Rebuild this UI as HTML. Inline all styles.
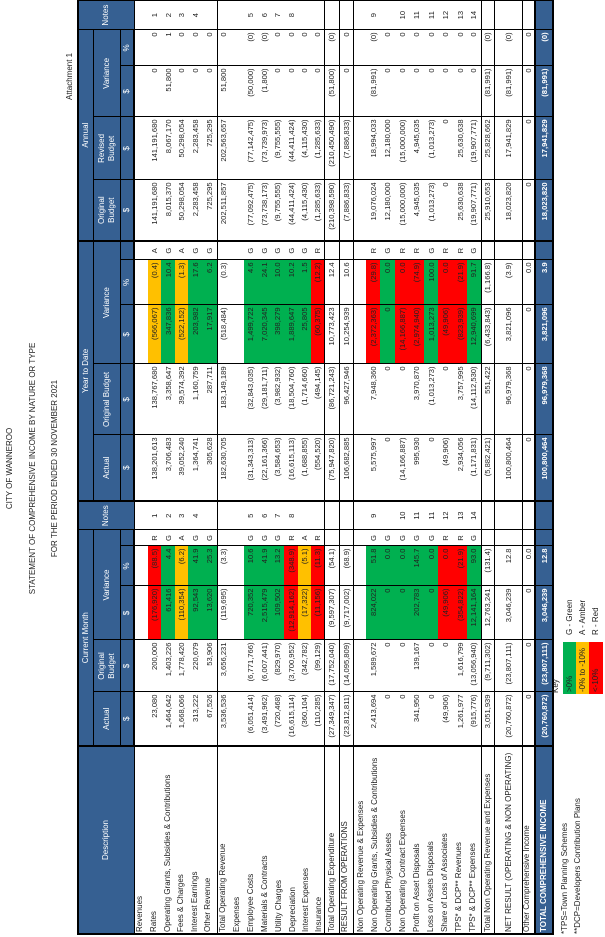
<!DOCTYPE html>
<html><head><meta charset="utf-8">
<style>
html,body{margin:0;padding:0;background:#fff;}
body{width:605px;height:937px;overflow:hidden;position:relative;font-family:"Liberation Sans",Arial,sans-serif;}
#L{position:absolute;left:0;top:0;width:937px;height:605px;transform-origin:0 0;transform:translateY(937px) rotate(-90deg);}
.t{position:absolute;font-size:8px;color:#222;white-space:nowrap;line-height:10px;}
table{position:absolute;left:2px;top:77px;width:932px;border-collapse:collapse;table-layout:fixed;}
td{padding:0 2px;font-size:7.6px;color:#222;white-space:nowrap;overflow:hidden;border-left:1px solid #000;border-right:1px solid #000;text-align:right;line-height:9px;}
th{background:#366092;color:#fff;border:1px solid #000;font-weight:normal;font-size:8px;text-align:center;padding:0;line-height:10px;overflow:hidden;}
.k{border-left:2px solid #000 !important;}
.c{text-align:center;}
.g{background:#00B050;}
.a{background:#FFC000;}
.r{background:#FF0000;}
tr.bb td{border-bottom:1px solid #000;}
tr.tot td{background:#366092;color:#fff;font-weight:bold;border-top:2px solid #000;border-bottom:2px solid #000;}
tr.hd3 th{border-bottom:2px solid #000;}
.bold{font-weight:bold;}
</style></head><body>
<div id="L">
<div class="t" style="left:0;width:937px;text-align:center;top:5px;">CITY OF WANNEROO</div>
<div class="t" style="left:0;width:937px;text-align:center;top:28px;">STATEMENT OF COMPREHENSIVE INCOME BY NATURE OR TYPE</div>
<div class="t" style="left:0;width:937px;text-align:center;top:50px;">FOR THE PERIOD ENDED 30 NOVEMBER 2021</div>
<div class="t" style="left:837px;top:65px;">Attachment 1</div>

<table>
<colgroup>
<col style="width:188px"><col style="width:54px"><col style="width:52px"><col style="width:54px"><col style="width:40px"><col style="width:16px"><col style="width:29px">
<col style="width:66px"><col style="width:71px"><col style="width:59px"><col style="width:45px"><col style="width:19px">
<col style="width:61px"><col style="width:63px"><col style="width:51px"><col style="width:36px"><col style="width:30px">
</colgroup>
<tr style="height:15px"><th rowspan="3" class="k" style="border-top:2px solid #000">Description</th><th colspan="5" class="k" style="border-top:2px solid #000">Current Month</th><th rowspan="3" style="border-top:2px solid #000">Notes</th><th colspan="5" class="k" style="border-top:2px solid #000">Year to Date</th><th colspan="4" class="k" style="border-top:2px solid #000">Annual</th><th rowspan="3" style="border-top:2px solid #000;border-right:2px solid #000">Notes</th></tr>
<tr style="height:27px"><th class="k">Actual</th><th>Original<br>Budget</th><th colspan="3">Variance</th><th class="k">Actual</th><th>Original Budget</th><th colspan="3">Variance</th><th class="k">Original<br>Budget</th><th>Revised<br>Budget</th><th colspan="2">Variance</th></tr>
<tr class="hd3" style="height:14px"><th class="k">$</th><th>$</th><th>$</th><th>%</th><th></th><th class="k">$</th><th>$</th><th>$</th><th>%</th><th></th><th class="k">$</th><th>$</th><th>$</th><th>%</th></tr>

<tr style="height:14px"><td class="k"></td><td class="k"></td><td></td><td></td><td></td><td></td><td></td><td class="k"></td><td></td><td></td><td></td><td></td><td class="k"></td><td></td><td></td><td></td><td style="border-right:2px solid #000"></td></tr>
<tr style="height:13px"><td class="k"></td><td class="k">23,080</td><td>200,000</td><td class="r">(176,920)</td><td class="r">(88.5)</td><td class="c">R</td><td class="c">1</td><td class="k">138,201,613</td><td>138,767,680</td><td class="a">(566,067)</td><td class="a">(0.4)</td><td class="c">A</td><td class="k">141,191,680</td><td>141,191,680</td><td>0</td><td>0</td><td class="c" style="border-right:2px solid #000">1</td></tr>
<tr style="height:14px"><td class="k"></td><td class="k">1,464,642</td><td>1,403,226</td><td class="g">61,416</td><td class="g">4.4</td><td class="c">G</td><td class="c">2</td><td class="k">3,706,483</td><td>3,358,647</td><td class="g">347,836</td><td class="g">10.4</td><td class="c">G</td><td class="k">8,015,370</td><td>8,067,170</td><td>51,800</td><td>1</td><td class="c" style="border-right:2px solid #000">2</td></tr>
<tr style="height:13px"><td class="k"></td><td class="k">1,668,066</td><td>1,778,420</td><td class="a">(110,354)</td><td class="a">(6.2)</td><td class="c">A</td><td class="c">3</td><td class="k">39,052,240</td><td>39,574,392</td><td class="a">(522,152)</td><td class="a">(1.3)</td><td class="c">A</td><td class="k">50,298,054</td><td>50,298,054</td><td>0</td><td>0</td><td class="c" style="border-right:2px solid #000">3</td></tr>
<tr style="height:14px"><td class="k"></td><td class="k">313,222</td><td>220,679</td><td class="g">92,543</td><td class="g">41.9</td><td class="c">G</td><td class="c">4</td><td class="k">1,364,741</td><td>1,160,759</td><td class="g">203,982</td><td class="g">17.6</td><td class="c">G</td><td class="k">2,283,458</td><td>2,283,458</td><td>0</td><td>0</td><td class="c" style="border-right:2px solid #000">4</td></tr>
<tr class="bb" style="height:15px"><td class="k"></td><td class="k">67,526</td><td>53,906</td><td class="g">13,620</td><td class="g">25.3</td><td class="c">G</td><td class="c"></td><td class="k">305,628</td><td>287,711</td><td class="g">17,917</td><td class="g">6.2</td><td class="c">G</td><td class="k">725,295</td><td>725,295</td><td>0</td><td>0</td><td style="border-right:2px solid #000"></td></tr>
<tr style="height:13px"><td class="k"></td><td class="k">3,536,536</td><td>3,656,231</td><td>(119,695)</td><td>(3.3)</td><td></td><td></td><td class="k">182,630,705</td><td>183,149,189</td><td>(518,484)</td><td>(0.3)</td><td></td><td class="k">202,511,857</td><td>202,563,657</td><td>51,800</td><td>0</td><td style="border-right:2px solid #000"></td></tr>
<tr style="height:14px"><td class="k"></td><td class="k"></td><td></td><td></td><td></td><td></td><td></td><td class="k"></td><td></td><td></td><td></td><td></td><td class="k"></td><td></td><td></td><td></td><td style="border-right:2px solid #000"></td></tr>
<tr style="height:13px"><td class="k"></td><td class="k">(6,051,414)</td><td>(6,771,766)</td><td class="g">720,352</td><td class="g">10.6</td><td class="c">G</td><td class="c">5</td><td class="k">(31,343,313)</td><td>(32,843,035)</td><td class="g">1,499,722</td><td class="g">4.6</td><td class="c">G</td><td class="k">(77,092,475)</td><td>(77,142,475)</td><td>(50,000)</td><td>(0)</td><td class="c" style="border-right:2px solid #000">5</td></tr>
<tr style="height:14px"><td class="k"></td><td class="k">(3,491,962)</td><td>(6,007,441)</td><td class="g">2,515,479</td><td class="g">41.9</td><td class="c">G</td><td class="c">6</td><td class="k">(22,161,366)</td><td>(29,181,711)</td><td class="g">7,020,345</td><td class="g">24.1</td><td class="c">G</td><td class="k">(73,738,173)</td><td>(73,739,973)</td><td>(1,800)</td><td>(0)</td><td class="c" style="border-right:2px solid #000">6</td></tr>
<tr style="height:13px"><td class="k"></td><td class="k">(720,468)</td><td>(829,970)</td><td class="g">109,502</td><td class="g">13.2</td><td class="c">G</td><td class="c">7</td><td class="k">(3,584,653)</td><td>(3,982,932)</td><td class="g">398,279</td><td class="g">10.0</td><td class="c">G</td><td class="k">(9,755,555)</td><td>(9,755,555)</td><td>0</td><td>0</td><td class="c" style="border-right:2px solid #000">7</td></tr>
<tr style="height:14px"><td class="k"></td><td class="k">(16,615,114)</td><td>(3,700,952)</td><td class="r">(12,914,162)</td><td class="r">(348.9)</td><td class="c">R</td><td class="c">8</td><td class="k">(16,615,113)</td><td>(18,504,760)</td><td class="g">1,889,647</td><td class="g">10.2</td><td class="c">G</td><td class="k">(44,411,424)</td><td>(44,411,424)</td><td>0</td><td>0</td><td class="c" style="border-right:2px solid #000">8</td></tr>
<tr style="height:13px"><td class="k"></td><td class="k">(360,104)</td><td>(342,782)</td><td class="a">(17,322)</td><td class="a">(5.1)</td><td class="c">A</td><td></td><td class="k">(1,688,855)</td><td>(1,714,660)</td><td class="g">25,805</td><td class="g">1.5</td><td class="c">G</td><td class="k">(4,115,430)</td><td>(4,115,430)</td><td>0</td><td>0</td><td style="border-right:2px solid #000"></td></tr>
<tr class="bb" style="height:13px"><td class="k"></td><td class="k">(110,285)</td><td>(99,129)</td><td class="r">(11,156)</td><td class="r">(11.3)</td><td class="c">R</td><td></td><td class="k">(554,520)</td><td>(494,145)</td><td class="r">(60,375)</td><td class="r">(12.2)</td><td class="c">R</td><td class="k">(1,285,633)</td><td>(1,285,633)</td><td>0</td><td>0</td><td style="border-right:2px solid #000"></td></tr>
<tr class="bb" style="height:15px"><td class="k"></td><td class="k">(27,349,347)</td><td>(17,752,040)</td><td>(9,597,307)</td><td>(54.1)</td><td></td><td></td><td class="k">(75,947,820)</td><td>(86,721,243)</td><td>10,773,423</td><td>12.4</td><td></td><td class="k">(210,398,590)</td><td>(210,450,490)</td><td>(51,800)</td><td>(0)</td><td style="border-right:2px solid #000"></td></tr>
<tr class="bb" style="height:14px"><td class="k"></td><td class="k">(23,812,811)</td><td>(14,095,809)</td><td>(9,717,002)</td><td>(68.9)</td><td></td><td></td><td class="k">106,682,885</td><td>96,427,946</td><td>10,254,939</td><td>10.6</td><td></td><td class="k">(7,886,833)</td><td>(7,886,833)</td><td>0</td><td>0</td><td style="border-right:2px solid #000"></td></tr>
<tr style="height:13px"><td class="k"></td><td class="k"></td><td></td><td></td><td></td><td></td><td></td><td class="k"></td><td></td><td></td><td></td><td></td><td class="k"></td><td></td><td></td><td></td><td style="border-right:2px solid #000"></td></tr>
<tr style="height:14px"><td class="k"></td><td class="k">2,413,694</td><td>1,589,672</td><td class="g">824,022</td><td class="g">51.8</td><td class="c">G</td><td class="c">9</td><td class="k">5,575,997</td><td>7,948,360</td><td class="r">(2,372,363)</td><td class="r">(29.8)</td><td class="c">R</td><td class="k">19,076,024</td><td>18,994,033</td><td>(81,991)</td><td>(0)</td><td class="c" style="border-right:2px solid #000">9</td></tr>
<tr style="height:15px"><td class="k"></td><td class="k">0</td><td>0</td><td class="g">0</td><td class="g">0.0</td><td class="c">G</td><td></td><td class="k">0</td><td>0</td><td class="g">0</td><td class="g">0.0</td><td class="c">G</td><td class="k">12,180,000</td><td>12,180,000</td><td>0</td><td>0</td><td style="border-right:2px solid #000"></td></tr>
<tr style="height:14px"><td class="k"></td><td class="k">0</td><td>0</td><td class="g">0</td><td class="g">0.0</td><td class="c">G</td><td class="c">10</td><td class="k">(14,166,887)</td><td>0</td><td class="r">(14,166,887)</td><td class="r">0.0</td><td class="c">R</td><td class="k">(15,000,000)</td><td>(15,000,000)</td><td>0</td><td>0</td><td class="c" style="border-right:2px solid #000">10</td></tr>
<tr style="height:15px"><td class="k"></td><td class="k">341,950</td><td>139,167</td><td class="g">202,783</td><td class="g">145.7</td><td class="c">G</td><td class="c">11</td><td class="k">995,930</td><td>3,970,870</td><td class="r">(2,974,940)</td><td class="r">(74.9)</td><td class="c">R</td><td class="k">4,945,035</td><td>4,945,035</td><td>0</td><td>0</td><td class="c" style="border-right:2px solid #000">11</td></tr>
<tr style="height:14px"><td class="k"></td><td class="k">0</td><td>0</td><td class="g">0</td><td class="g">0.0</td><td class="c">G</td><td class="c">11</td><td class="k">0</td><td>(1,013,273)</td><td class="g">1,013,273</td><td class="g">100.0</td><td class="c">G</td><td class="k">(1,013,273)</td><td>(1,013,273)</td><td>0</td><td>0</td><td class="c" style="border-right:2px solid #000">11</td></tr>
<tr style="height:15px"><td class="k"></td><td class="k">(49,906)</td><td>0</td><td class="r">(49,906)</td><td class="r">0.0</td><td class="c">R</td><td class="c">12</td><td class="k">(49,906)</td><td>0</td><td class="r">(49,906)</td><td class="r">0.0</td><td class="c">R</td><td class="k">0</td><td>0</td><td>0</td><td>0</td><td class="c" style="border-right:2px solid #000">12</td></tr>
<tr style="height:14px"><td class="k"></td><td class="k">1,261,977</td><td>1,616,799</td><td class="r">(354,822)</td><td class="r">(21.9)</td><td class="c">R</td><td class="c">13</td><td class="k">2,934,056</td><td>3,757,995</td><td class="r">(823,939)</td><td class="r">(21.9)</td><td class="c">R</td><td class="k">25,630,638</td><td>25,630,638</td><td>0</td><td>0</td><td class="c" style="border-right:2px solid #000">13</td></tr>
<tr style="height:14px"><td class="k"></td><td class="k">(915,776)</td><td>(13,056,940)</td><td class="g">12,141,164</td><td class="g">93.0</td><td class="c">G</td><td class="c">14</td><td class="k">(1,171,831)</td><td>(14,112,530)</td><td class="g">12,940,699</td><td class="g">91.7</td><td class="c">G</td><td class="k">(19,907,771)</td><td>(19,907,771)</td><td>0</td><td>0</td><td class="c" style="border-right:2px solid #000">14</td></tr>
<tr class="bb" style="height:13px;border-top:1px solid #000"><td class="k"></td><td class="k">3,051,939</td><td>(9,711,302)</td><td>12,763,241</td><td>(131.4)</td><td></td><td></td><td class="k">(5,882,421)</td><td>551,422</td><td>(6,433,843)</td><td>(1,166.8)</td><td></td><td class="k">25,910,653</td><td>25,828,662</td><td>(81,991)</td><td>(0)</td><td style="border-right:2px solid #000"></td></tr>
<tr class="bb" style="height:28px"><td class="k"></td><td class="k">(20,760,872)</td><td>(23,807,111)</td><td>3,046,239</td><td>12.8</td><td></td><td></td><td class="k">100,800,464</td><td>96,979,368</td><td>3,821,096</td><td>(3.9)</td><td></td><td class="k">18,023,820</td><td>17,941,829</td><td>(81,991)</td><td>(0)</td><td style="border-right:2px solid #000"></td></tr>
<tr style="height:13px"><td class="k"></td><td class="k">0</td><td>0</td><td>0</td><td>0.0</td><td></td><td></td><td class="k">0</td><td>0</td><td>0</td><td>0.0</td><td></td><td class="k">0</td><td>0</td><td>0</td><td>0</td><td style="border-right:2px solid #000"></td></tr>
<tr class="tot" style="height:18px"><td class="k"></td><td class="k">(20,760,872)</td><td>(23,807,111)</td><td>3,046,239</td><td>12.8</td><td></td><td></td><td class="k">100,800,464</td><td>96,979,368</td><td>3,821,096</td><td>3.9</td><td></td><td class="k">18,023,820</td><td>17,941,829</td><td>(81,991)</td><td>(0)</td><td style="border-right:2px solid #000"></td></tr>
</table>

<div class="t" style="left:5px;top:135px">Revenues</div>
<div class="t" style="left:5px;top:149px">Rates</div>
<div class="t" style="left:5px;top:163px">Operating Grants, Subsidies &amp; Contributions</div>
<div class="t" style="left:5px;top:176px">Fees &amp; Charges</div>
<div class="t" style="left:5px;top:190px">Interest Earnings</div>
<div class="t" style="left:5px;top:203px">Other Revenue</div>
<div class="t" style="left:5px;top:218px">Total Operating Revenue</div>
<div class="t" style="left:5px;top:232px">Expenses</div>
<div class="t" style="left:5px;top:246px">Employee Costs</div>
<div class="t" style="left:5px;top:260px">Materials &amp; Contracts</div>
<div class="t" style="left:5px;top:274px">Utility Charges</div>
<div class="t" style="left:5px;top:288px">Depreciation</div>
<div class="t" style="left:5px;top:301px">Interest Expenses</div>
<div class="t" style="left:5px;top:314px">Insurance</div>
<div class="t" style="left:5px;top:327px">Total Operating Expenditure</div>
<div class="t" style="left:5px;top:340px">RESULT FROM OPERATIONS</div>
<div class="t" style="left:5px;top:356px">Non Operating Revenue &amp; Expenses</div>
<div class="t" style="left:5px;top:370px">Non Operating Grants, Subsidies &amp; Contributions</div>
<div class="t" style="left:5px;top:384px">Contributed Physical Assets</div>
<div class="t" style="left:5px;top:398px">Non Operating Contract Expenses</div>
<div class="t" style="left:5px;top:412px">Profit on Asset Disposals</div>
<div class="t" style="left:5px;top:426px">Loss on Assets Disposals</div>
<div class="t" style="left:5px;top:440px">Share of Loss of Associates</div>
<div class="t" style="left:5px;top:454px">TPS* &amp; DCP** Revenues</div>
<div class="t" style="left:5px;top:468px">TPS* &amp; DCP** Expenses</div>
<div class="t" style="left:5px;top:483px">Total Non Operating Revenue and Expenses</div>
<div class="t" style="left:5px;top:504px">NET RESULT (OPERATING &amp; NON OPERATING)</div>
<div class="t" style="left:5px;top:522px">Other Comprehensive Income</div>
<div class="t bold" style="left:5px;top:539px;color:#fff">TOTAL COMPREHENSIVE INCOME</div>

<div class="t" style="left:3px;top:560px">*TPS=Town Planning Schemes</div>
<div class="t" style="left:3px;top:573px">**DCP=Developers Contribution Plans</div>

<div class="t" style="left:244px;top:551px">Key</div>
<div class="t g" style="left:243px;top:563px;width:50px;height:13px;line-height:13px;padding-left:2px">&gt;0%</div>
<div class="t a" style="left:243px;top:576px;width:50px;height:13px;line-height:13px;padding-left:2px">-0% to -10%</div>
<div class="t r" style="left:243px;top:589px;width:50px;height:14px;line-height:14px;padding-left:2px">&lt;-10%</div>
<div class="t" style="left:302px;top:565px">G - Green</div>
<div class="t" style="left:302px;top:578px">A - Amber</div>
<div class="t" style="left:302px;top:591px">R - Red</div>
</div>
</body></html>
